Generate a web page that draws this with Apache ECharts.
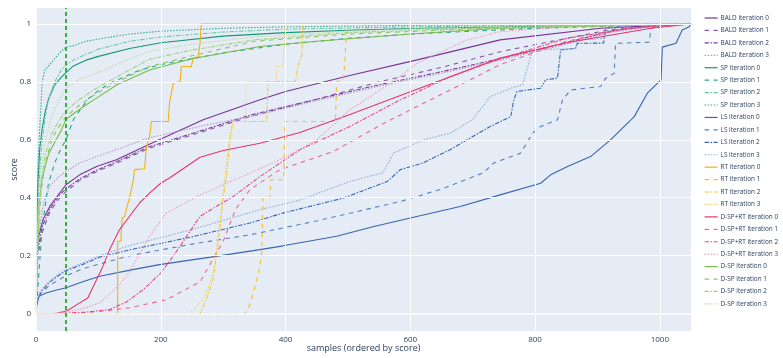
<!DOCTYPE html>
<html><head><meta charset="utf-8">
<script src="https://cdn.jsdelivr.net/npm/echarts@6/dist/echarts.min.js"></script>
<style>html,body{margin:0;padding:0;background:#fff}#c{width:783px;height:358px}</style>
</head><body><div id="c"></div>
<script>
const xTicks = [0, 200, 400, 600, 800, 1000];
const yTicks = [0, 0.2, 0.4, 0.6, 0.8, 1];
const cutoffX = 48;
const methods = ['BALD', 'SP', 'LS', 'RT', 'D-SP+RT', 'D-SP'];

const BALD0 = [[0,0],[1,0.15],[3,0.255],[11,0.324],[22,0.37],[38,0.416],[48,0.445],[70,0.479],[97,0.508],[129,0.531],[180,0.583],[268,0.669],[359,0.738],[400,0.767],[503,0.822],[611,0.876],[744,0.945],[905,0.985],[1000,0.995],[1050,1]];
const BALD1 = [[0,0],[3,0.2],[10,0.28],[22,0.35],[38,0.4],[48,0.42],[70,0.46],[97,0.49],[130,0.52],[180,0.57],[270,0.63],[343,0.68],[450,0.74],[550,0.8],[650,0.85],[744,0.904],[850,0.95],[920,0.98],[1000,0.995],[1050,1]];
const BALD2 = [[0,0],[3,0.22],[10,0.3],[22,0.36],[38,0.41],[48,0.43],[70,0.465],[97,0.495],[130,0.525],[180,0.575],[270,0.635],[343,0.685],[450,0.74],[550,0.79],[650,0.835],[744,0.88],[850,0.935],[920,0.975],[1000,0.995],[1050,1]];
const BALD3 = [[0,0],[2,0.2],[6,0.3],[12,0.38],[22,0.439],[35,0.47],[48,0.491],[70,0.52],[97,0.542],[140,0.575],[180,0.606],[270,0.65],[343,0.68],[450,0.735],[550,0.785],[650,0.83],[744,0.875],[850,0.93],[920,0.97],[1000,0.995],[1050,1]];

const SP0 = [[0,0],[1,0.3],[3,0.45],[6,0.57],[10,0.64],[15,0.7],[20,0.74],[30,0.79],[40,0.815],[48,0.832],[60,0.855],[80,0.875],[100,0.888],[150,0.915],[200,0.935],[300,0.958],[400,0.97],[500,0.978],[600,0.984],[800,0.992],[1000,0.998],[1050,1]];
const SP1 = [[0,0],[10,0.3],[20,0.45],[30,0.52],[40,0.57],[48,0.6],[60,0.67],[83,0.74],[100,0.77],[123,0.8],[166,0.84],[200,0.86],[300,0.9],[400,0.93],[500,0.95],[600,0.965],[800,0.985],[1050,1]];
const SP2 = [[0,0],[3,0.35],[6,0.5],[10,0.6],[15,0.68],[20,0.74],[30,0.8],[40,0.84],[48,0.858],[60,0.875],[80,0.895],[100,0.913],[150,0.94],[200,0.955],[300,0.972],[400,0.982],[600,0.99],[1050,1]];
const SP3 = [[0,0],[1,0.35],[3,0.5],[5,0.6],[8,0.72],[10,0.8],[14,0.84],[20,0.855],[30,0.88],[40,0.905],[48,0.92],[60,0.925],[80,0.94],[100,0.948],[150,0.965],[200,0.975],[300,0.985],[400,0.99],[600,0.995],[1050,1]];

const LS0 = [[0,0],[1,0.03],[5,0.06],[15,0.07],[30,0.08],[48,0.089],[75,0.11],[102,0.129],[155,0.152],[198,0.169],[280,0.195],[359,0.221],[396,0.234],[482,0.267],[540,0.3],[600,0.33],[680,0.37],[744,0.41],[809,0.45],[825,0.479],[852,0.508],[889,0.542],[921,0.6],[959,0.68],[980,0.761],[1002,0.807],[1004,0.92],[1026,0.933],[1036,0.979],[1047,0.99],[1050,1]];
const LS1 = [[0,0],[2,0.04],[8,0.07],[20,0.095],[35,0.115],[48,0.13],[75,0.155],[100,0.17],[150,0.2],[250,0.24],[343,0.272],[450,0.32],[584,0.387],[650,0.43],[717,0.486],[734,0.52],[777,0.554],[796,0.623],[809,0.646],[836,0.669],[844,0.738],[857,0.772],[905,0.784],[913,0.812],[927,0.83],[929,0.933],[983,0.937],[986,0.985],[1000,0.995],[1050,1]];
const LS2 = [[0,0],[2,0.05],[8,0.075],[20,0.105],[35,0.13],[48,0.148],[75,0.17],[102,0.195],[150,0.22],[250,0.265],[343,0.313],[396,0.347],[493,0.399],[563,0.456],[584,0.497],[620,0.52],[664,0.566],[728,0.646],[761,0.68],[766,0.738],[771,0.767],[809,0.778],[817,0.807],[836,0.813],[841,0.91],[865,0.916],[868,0.933],[910,0.934],[913,0.985],[950,0.995],[1050,1]];
const LS3 = [[0,0],[2,0.05],[8,0.08],[20,0.11],[35,0.135],[48,0.152],[75,0.175],[102,0.2],[150,0.235],[250,0.29],[359,0.359],[420,0.39],[503,0.456],[556,0.486],[573,0.554],[621,0.6],[664,0.623],[700,0.67],[728,0.749],[761,0.778],[780,0.79],[796,0.91],[865,0.915],[868,0.945],[910,0.95],[913,0.985],[950,0.995],[1050,1]];

const RT0 = [[0,0],[131,0],[131,0.25],[136,0.25],[138,0.33],[142,0.335],[146,0.37],[150,0.4],[156,0.46],[158,0.497],[174,0.5],[177,0.575],[182,0.611],[185,0.663],[212,0.663],[214,0.727],[220,0.795],[231,0.801],[233,0.853],[249,0.853],[252,0.882],[260,0.887],[263,0.933],[265,1],[1050,1]];
const RT1 = [[0,0],[335,0],[343,0.031],[352,0.1],[359,0.163],[362,0.215],[364,0.399],[375,0.399],[376,0.462],[397,0.462],[399,0.663],[480,0.663],[482,0.801],[493,0.807],[498,0.973],[500,1],[1050,1]];
const RT2 = [[0,0],[263,0],[273,0.05],[284,0.12],[289,0.2],[295,0.3],[300,0.4],[305,0.47],[311,0.6],[316,0.663],[370,0.663],[372,0.801],[416,0.801],[420,0.853],[426,0.893],[428,1],[1050,1]];
const RT3 = [[0,0],[247,0],[260,0.03],[273,0.07],[284,0.14],[289,0.22],[295,0.32],[300,0.42],[304,0.5],[311,0.62],[316,0.663],[335,0.663],[337,0.8],[385,0.8],[386,0.853],[396,0.853],[399,1],[1050,1]];

const DSPRT0 = [[0,0],[32,0],[50,0.01],[70,0.037],[83,0.054],[97,0.117],[105,0.152],[118,0.221],[134,0.29],[150,0.336],[166,0.382],[182,0.416],[200,0.45],[214,0.468],[263,0.54],[300,0.563],[359,0.588],[423,0.625],[500,0.685],[600,0.766],[744,0.882],[850,0.935],[986,0.985],[1050,1]];
const DSPRT1 = [[0,0],[60,0],[102,0.008],[150,0.02],[209,0.048],[263,0.11],[300,0.25],[320,0.36],[343,0.428],[391,0.497],[477,0.56],[560,0.66],[664,0.772],[744,0.86],[850,0.94],[950,0.985],[1050,1]];
const DSPRT2 = [[0,0],[30,0],[80,0.005],[118,0.014],[145,0.04],[172,0.083],[200,0.14],[220,0.198],[263,0.336],[289,0.37],[316,0.404],[359,0.473],[423,0.566],[503,0.646],[584,0.738],[664,0.818],[744,0.88],[850,0.95],[950,0.985],[1050,1]];
const DSPRT3 = [[0,0],[25,0],[60,0.01],[80,0.02],[102,0.037],[125,0.08],[145,0.129],[165,0.2],[182,0.267],[209,0.347],[263,0.41],[316,0.46],[343,0.485],[400,0.54],[450,0.6],[503,0.703],[568,0.795],[611,0.864],[691,0.945],[744,0.973],[850,0.99],[1050,1]];

const DSP0 = [[0,0],[2,0.2],[5,0.38],[10,0.47],[20,0.55],[32,0.6],[40,0.63],[48,0.67],[60,0.69],[80,0.72],[97,0.744],[130,0.79],[182,0.841],[250,0.88],[359,0.922],[450,0.94],[600,0.965],[744,0.985],[900,0.993],[1050,1]];
const DSP1 = [[0,0],[3,0.25],[8,0.42],[15,0.52],[25,0.6],[35,0.64],[48,0.68],[70,0.72],[97,0.76],[140,0.81],[182,0.853],[250,0.89],[350,0.94],[500,0.965],[700,0.983],[1050,1]];
const DSP2 = [[0,0],[3,0.28],[8,0.45],[15,0.55],[25,0.62],[35,0.66],[48,0.7],[70,0.74],[97,0.778],[140,0.83],[182,0.878],[250,0.91],[350,0.945],[500,0.97],[700,0.985],[1050,1]];
const DSP3 = [[0,0],[3,0.3],[8,0.5],[15,0.6],[25,0.68],[35,0.73],[48,0.778],[70,0.81],[97,0.83],[140,0.87],[182,0.905],[250,0.93],[350,0.955],[500,0.975],[700,0.99],[1050,1]];

const seriesData = {
  'BALD': [BALD0, BALD1, BALD2, BALD3],
  'SP': [SP0, SP1, SP2, SP3],
  'LS': [LS0, LS1, LS2, LS3],
  'RT': [RT0, RT1, RT2, RT3],
  'D-SP+RT': [DSPRT0, DSPRT1, DSPRT2, DSPRT3],
  'D-SP': [DSP0, DSP1, DSP2, DSP3]
};
const colors = {
  'BALD': ['#7b3294', '#8c56a8', '#7d3f96', '#b792cc'],
  'SP': ['#15987a', '#2aa58a', '#6cc7a3', '#3aa88c'],
  'LS': ['#3a64ad', '#5a7fbf', '#3566b4', '#8eaad9'],
  'RT': ['#f2b20f', '#f5bd2c', '#f6c834', '#f7d46a'],
  'D-SP+RT': ['#e8346c', '#ee6690', '#e84a80', '#f19bbd'],
  'D-SP': ['#78bb48', '#8cc65e', '#9fcf7b', '#b8dd9a']
};
const dashes = ['solid', [4.5, 4.5], [4.5, 1.5, 1.5, 1.5], [1.5, 1.5]];

const series = [];
const legendNames = [];
methods.forEach(m => {
  for (let i = 0; i < 4; i++) {
    const name = m + ' iteration ' + i;
    legendNames.push(name);
    series.push({
      name, type: 'line', data: seriesData[m][i], showSymbol: false, symbol: 'none',
      smooth: false, animation: false,
      lineStyle: { color: colors[m][i], width: 1.1, type: dashes[i] },
      itemStyle: { color: colors[m][i] },
      z: 3
    });
  }
});
series.unshift({
  type: 'line', data: [], silent: true, z: 1, animation: false,
  markLine: {
    silent: true, symbol: 'none', animation: false, label: { show: false },
    data: yTicks.map(v => ({ yAxis: v, lineStyle: { color: '#ffffff', width: v === 0 ? 1.6 : 1, type: 'solid' } }))
      .concat(xTicks.map(v => ({ xAxis: v, lineStyle: { color: '#ffffff', width: v === 0 ? 1.6 : 1, type: 'solid' } })))
  }
});
series.push({
  type: 'line', data: [], silent: true, z: 5, animation: false,
  markLine: {
    silent: true, symbol: 'none', animation: false, label: { show: false },
    data: [{ xAxis: cutoffX, lineStyle: { color: '#00a000', width: 1.5, type: [4, 3] } }]
  }
});

const chart = echarts.init(document.getElementById('c'), null, { renderer: 'canvas' });
chart.setOption({
  animation: false,
  backgroundColor: '#ffffff',
  textStyle: { fontFamily: '"Open Sans", sans-serif' },
  grid: { left: 36, right: 92, top: 8, bottom: 27, show: true, backgroundColor: '#E5ECF6', borderWidth: 0, containLabel: false, outerBoundsMode: 'none' },
  xAxis: {
    type: 'value', min: 0, max: 1050,
    name: 'samples (ordered by score)', nameLocation: 'middle', nameGap: 13, nameMoveOverlap: false,
    nameTextStyle: { color: '#2a3f5f', fontSize: 9, fontFamily: '"Open Sans", sans-serif' },
    axisLine: { show: false }, axisTick: { show: false }, splitLine: { show: false },
    axisLabel: { customValues: xTicks, color: '#2a3f5f', fontSize: 8, margin: 5, formatter: v => String(v), fontFamily: '"Open Sans", sans-serif' }
  },
  yAxis: {
    type: 'value', min: -0.06, max: 1.055,
    name: 'score', nameLocation: 'middle', nameGap: 17, nameMoveOverlap: false,
    nameTextStyle: { color: '#2a3f5f', fontSize: 9, fontFamily: '"Open Sans", sans-serif' },
    axisLine: { show: false }, axisTick: { show: false }, splitLine: { show: false },
    axisLabel: { customValues: yTicks, color: '#2a3f5f', fontSize: 8, margin: 5, formatter: v => String(v), fontFamily: '"Open Sans", sans-serif' }
  },
  legend: {
    orient: 'vertical', left: 704, top: 14, data: legendNames,
    itemWidth: 13, itemHeight: 8, itemGap: 4.43, padding: 0,
    itemStyle: { color: 'rgba(0,0,0,0)', borderColor: 'rgba(0,0,0,0)', borderWidth: 0, opacity: 0 },
    lineStyle: { width: 1.2 },
    textStyle: { color: '#2a3f5f', fontSize: 6.4, fontFamily: '"Open Sans", sans-serif', lineHeight: 8, padding: [0,0,0,-2] }
  },
  series
});
</script></body></html>
